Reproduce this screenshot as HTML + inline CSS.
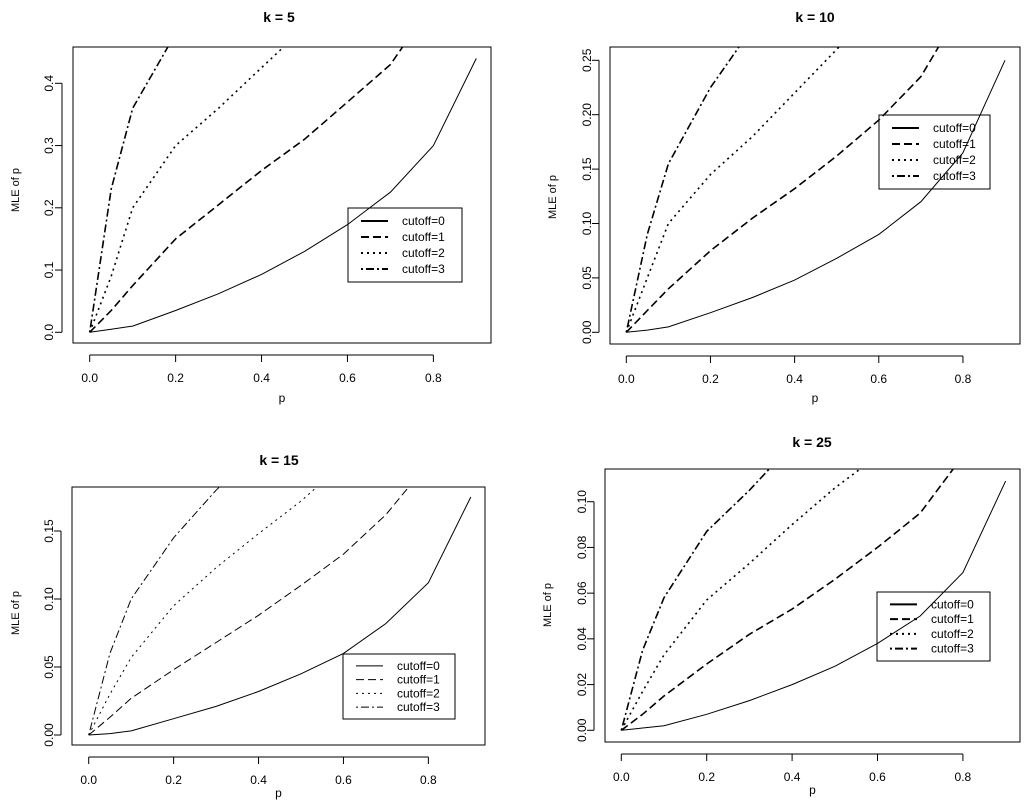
<!DOCTYPE html>
<html><head><meta charset="utf-8"><style>
body{margin:0;background:#fff;}
svg{display:block;font-family:"Liberation Sans",Arial,sans-serif;}
</style></head><body>
<svg id="c" width="1035" height="803" viewBox="0 0 1035 803"></svg>
<script>
const pGrid=[0,0.05,0.1,0.2,0.3,0.4,0.5,0.6,0.7,0.8,0.9];
const seriesNames=["cutoff=0","cutoff=1","cutoff=2","cutoff=3"];
const k5c0=[0,0.005,0.01,0.035,0.062,0.093,0.13,0.173,0.225,0.3,0.44];
const k5c1=[0,0.035,0.075,0.15,0.205,0.26,0.31,0.37,0.43,0.53,0.65];
const k5c2=[0,0.09,0.2,0.3,0.36,0.425,0.49,0.56,0.63,0.7,0.8];
const k5c3=[0,0.23,0.36,0.48,0.6,0.7,0.8,0.9,1,1.1,1.2];
const k10c0=[0,0.002,0.005,0.018,0.032,0.048,0.068,0.09,0.12,0.165,0.25];
const k10c1=[0,0.02,0.04,0.075,0.105,0.132,0.162,0.195,0.235,0.3,0.38];
const k10c2=[0,0.05,0.1,0.145,0.18,0.22,0.26,0.3,0.34,0.38,0.42];
const k10c3=[0,0.09,0.155,0.225,0.28,0.33,0.38,0.43,0.48,0.53,0.58];
const k15c0=[0,0.001,0.003,0.012,0.021,0.032,0.045,0.06,0.082,0.112,0.175];
const k15c1=[0,0.013,0.027,0.048,0.068,0.088,0.11,0.133,0.162,0.2,0.25];
const k15c2=[0,0.03,0.057,0.095,0.123,0.148,0.172,0.2,0.23,0.26,0.3];
const k15c3=[0,0.06,0.1,0.145,0.18,0.21,0.24,0.27,0.3,0.33,0.36];
const k25c0=[0,0.001,0.002,0.007,0.013,0.02,0.028,0.038,0.05,0.069,0.109];
const k25c1=[0,0.007,0.015,0.029,0.042,0.053,0.066,0.08,0.095,0.12,0.15];
const k25c2=[0,0.017,0.033,0.057,0.073,0.09,0.106,0.12,0.14,0.16,0.18];
const k25c3=[0,0.035,0.058,0.087,0.105,0.125,0.145,0.165,0.185,0.2,0.22];
const xTicks=[0,0.2,0.4,0.6,0.8];
const xTickLabels=["0.0","0.2","0.4","0.6","0.8"];
const yTicks5=[0,0.1,0.2,0.3,0.4];const yTickLabels5=["0.0","0.1","0.2","0.3","0.4"];
const yTicks10=[0,0.05,0.1,0.15,0.2,0.25];const yTickLabels10=["0.00","0.05","0.10","0.15","0.20","0.25"];
const yTicks15=[0,0.05,0.1,0.15];const yTickLabels15=["0.00","0.05","0.10","0.15"];
const yTicks25=[0,0.02,0.04,0.06,0.08,0.1];const yTickLabels25=["0.00","0.02","0.04","0.06","0.08","0.10"];

const panels=[
 {id:"k5",title:"k = 5",box:[73,47,491,343],x0:89.7,xs:429.6,y0:332.3,ys:622.5,data:[k5c0,k5c1,k5c2,k5c3],yt:yTicks5,ytl:yTickLabels5,lw:1.6,leg:[348,208,462,282],tx:279,ty:22,pl:398,yl:[15,190],ytx:49},
 {id:"k10",title:"k = 10",box:[610,47,1020,344],x0:626.3,xs:420.8,y0:332.3,ys:1088,data:[k10c0,k10c1,k10c2,k10c3],yt:yTicks10,ytl:yTickLabels10,lw:1.6,leg:[879,115,990,189],tx:815,ty:22,pl:398,yl:[552,197],ytx:587},
 {id:"k15",title:"k = 15",box:[72,487,485,745],x0:88.7,xs:424.6,y0:735,ys:1360,data:[k15c0,k15c1,k15c2,k15c3],yt:yTicks15,ytl:yTickLabels15,lw:1,leg:[343,654,455,719],tx:279,ty:465,pl:793,yl:[15,613],ytx:49},
 {id:"k25",title:"k = 25",box:[605,469,1020,742],x0:621.3,xs:427,y0:730.3,ys:2286,data:[k25c0,k25c1,k25c2,k25c3],yt:yTicks25,ytl:yTickLabels25,lw:1.6,leg:[877,592,990,661],tx:812,ty:447,pl:790,yl:[547,605],ytx:582}
];
const dashes=["","8,4","2,4","2,3,8,3"];
const NS="http://www.w3.org/2000/svg";
const svg=document.getElementById("c");
function mk(tag,attrs,parent){const e=document.createElementNS(NS,tag);for(const a in attrs)e.setAttribute(a,attrs[a]);(parent||svg).appendChild(e);return e;}
panels.forEach(P=>{
 const g=mk("g",{});
 
 
 const X=v=>P.x0+v*P.xs, Y=v=>P.y0-v*P.ys;
 const [bx1,by1,bx2,by2]=P.box;
 const cp=mk("clipPath",{id:"cp"+P.id},g);
 mk("rect",{x:bx1,y:by1,width:bx2-bx1,height:by2-by1},cp);
 const t=mk("text",{x:P.tx,y:P.ty,"text-anchor":"middle","font-size":"14","font-weight":"bold"},g);
 t.textContent=P.title;
 
 
 P.data.forEach((vals,si)=>{
  const pts=pGrid.map((p,i)=>X(p).toFixed(1)+","+Y(vals[i]).toFixed(1)).join(" ");
  const pl=mk("polyline",{points:pts,fill:"none",stroke:"#000","stroke-width":si===0?1:P.lw,"stroke-dasharray":dashes[si],"clip-path":"url(#cp"+P.id+")"},g);
  
  
 });
 const box=mk("rect",{x:bx1,y:by1,width:bx2-bx1,height:by2-by1,fill:"none",stroke:"#000","stroke-width":1},g);
 
 
 const ax=by2+12;
 const xa=mk("line",{x1:X(0),x2:X(0.8),y1:ax,y2:ax,stroke:"#000"},g);
 
 
 xTicks.forEach((v,i)=>{
  mk("line",{x1:X(v),x2:X(v),y1:ax,y2:ax+7,stroke:"#000"},g);
  const tl=mk("text",{x:X(v),y:ax+27,"text-anchor":"middle","font-size":"12"},g);
  tl.textContent=xTickLabels[i];
  
  
 });
 const ayx=bx1-11;
 const ya=mk("line",{x1:ayx,x2:ayx,y1:Y(P.yt[0]),y2:Y(P.yt[P.yt.length-1]),stroke:"#000"},g);
 
 
 P.yt.forEach((v,i)=>{
  mk("line",{x1:ayx-7,x2:ayx,y1:Y(v),y2:Y(v),stroke:"#000"},g);
  const tl=mk("text",{x:P.ytx+4,y:Y(v),"text-anchor":"middle","font-size":"12",transform:"rotate(-90 "+(P.ytx+4)+" "+Y(v)+")"},g);
  tl.textContent=P.ytl[i];
  
  
 });
 const xl=mk("text",{x:(bx1+bx2)/2,y:P.pl+4,"text-anchor":"middle","font-size":"12"},g);
 xl.textContent="p";
 
 
 const yl=mk("text",{x:P.yl[0]+4,y:P.yl[1],"text-anchor":"middle","font-size":"11",transform:"rotate(-90 "+(P.yl[0]+4)+" "+P.yl[1]+")"},g);
 yl.textContent="MLE of p";
 
 
 const [lx1,ly1,lx2,ly2]=P.leg;
 const lg=mk("g",{},g);
 
 
 mk("rect",{x:lx1,y:ly1,width:lx2-lx1,height:ly2-ly1,fill:"none",stroke:"#000"},lg);
 const step=(ly2-ly1-10)/4;
 seriesNames.forEach((n,i)=>{
  const yy=ly1+5+step*(i+0.5);
  mk("line",{x1:lx1+13,x2:lx1+40,y1:yy,y2:yy,stroke:"#000","stroke-width":P.lw===1?1:2,"stroke-dasharray":dashes[i]},lg);
  const tt=mk("text",{x:lx1+54,y:yy+4,"font-size":"12"},lg);
  tt.textContent=n;
  
  
 });
});
</script>
</body></html>
